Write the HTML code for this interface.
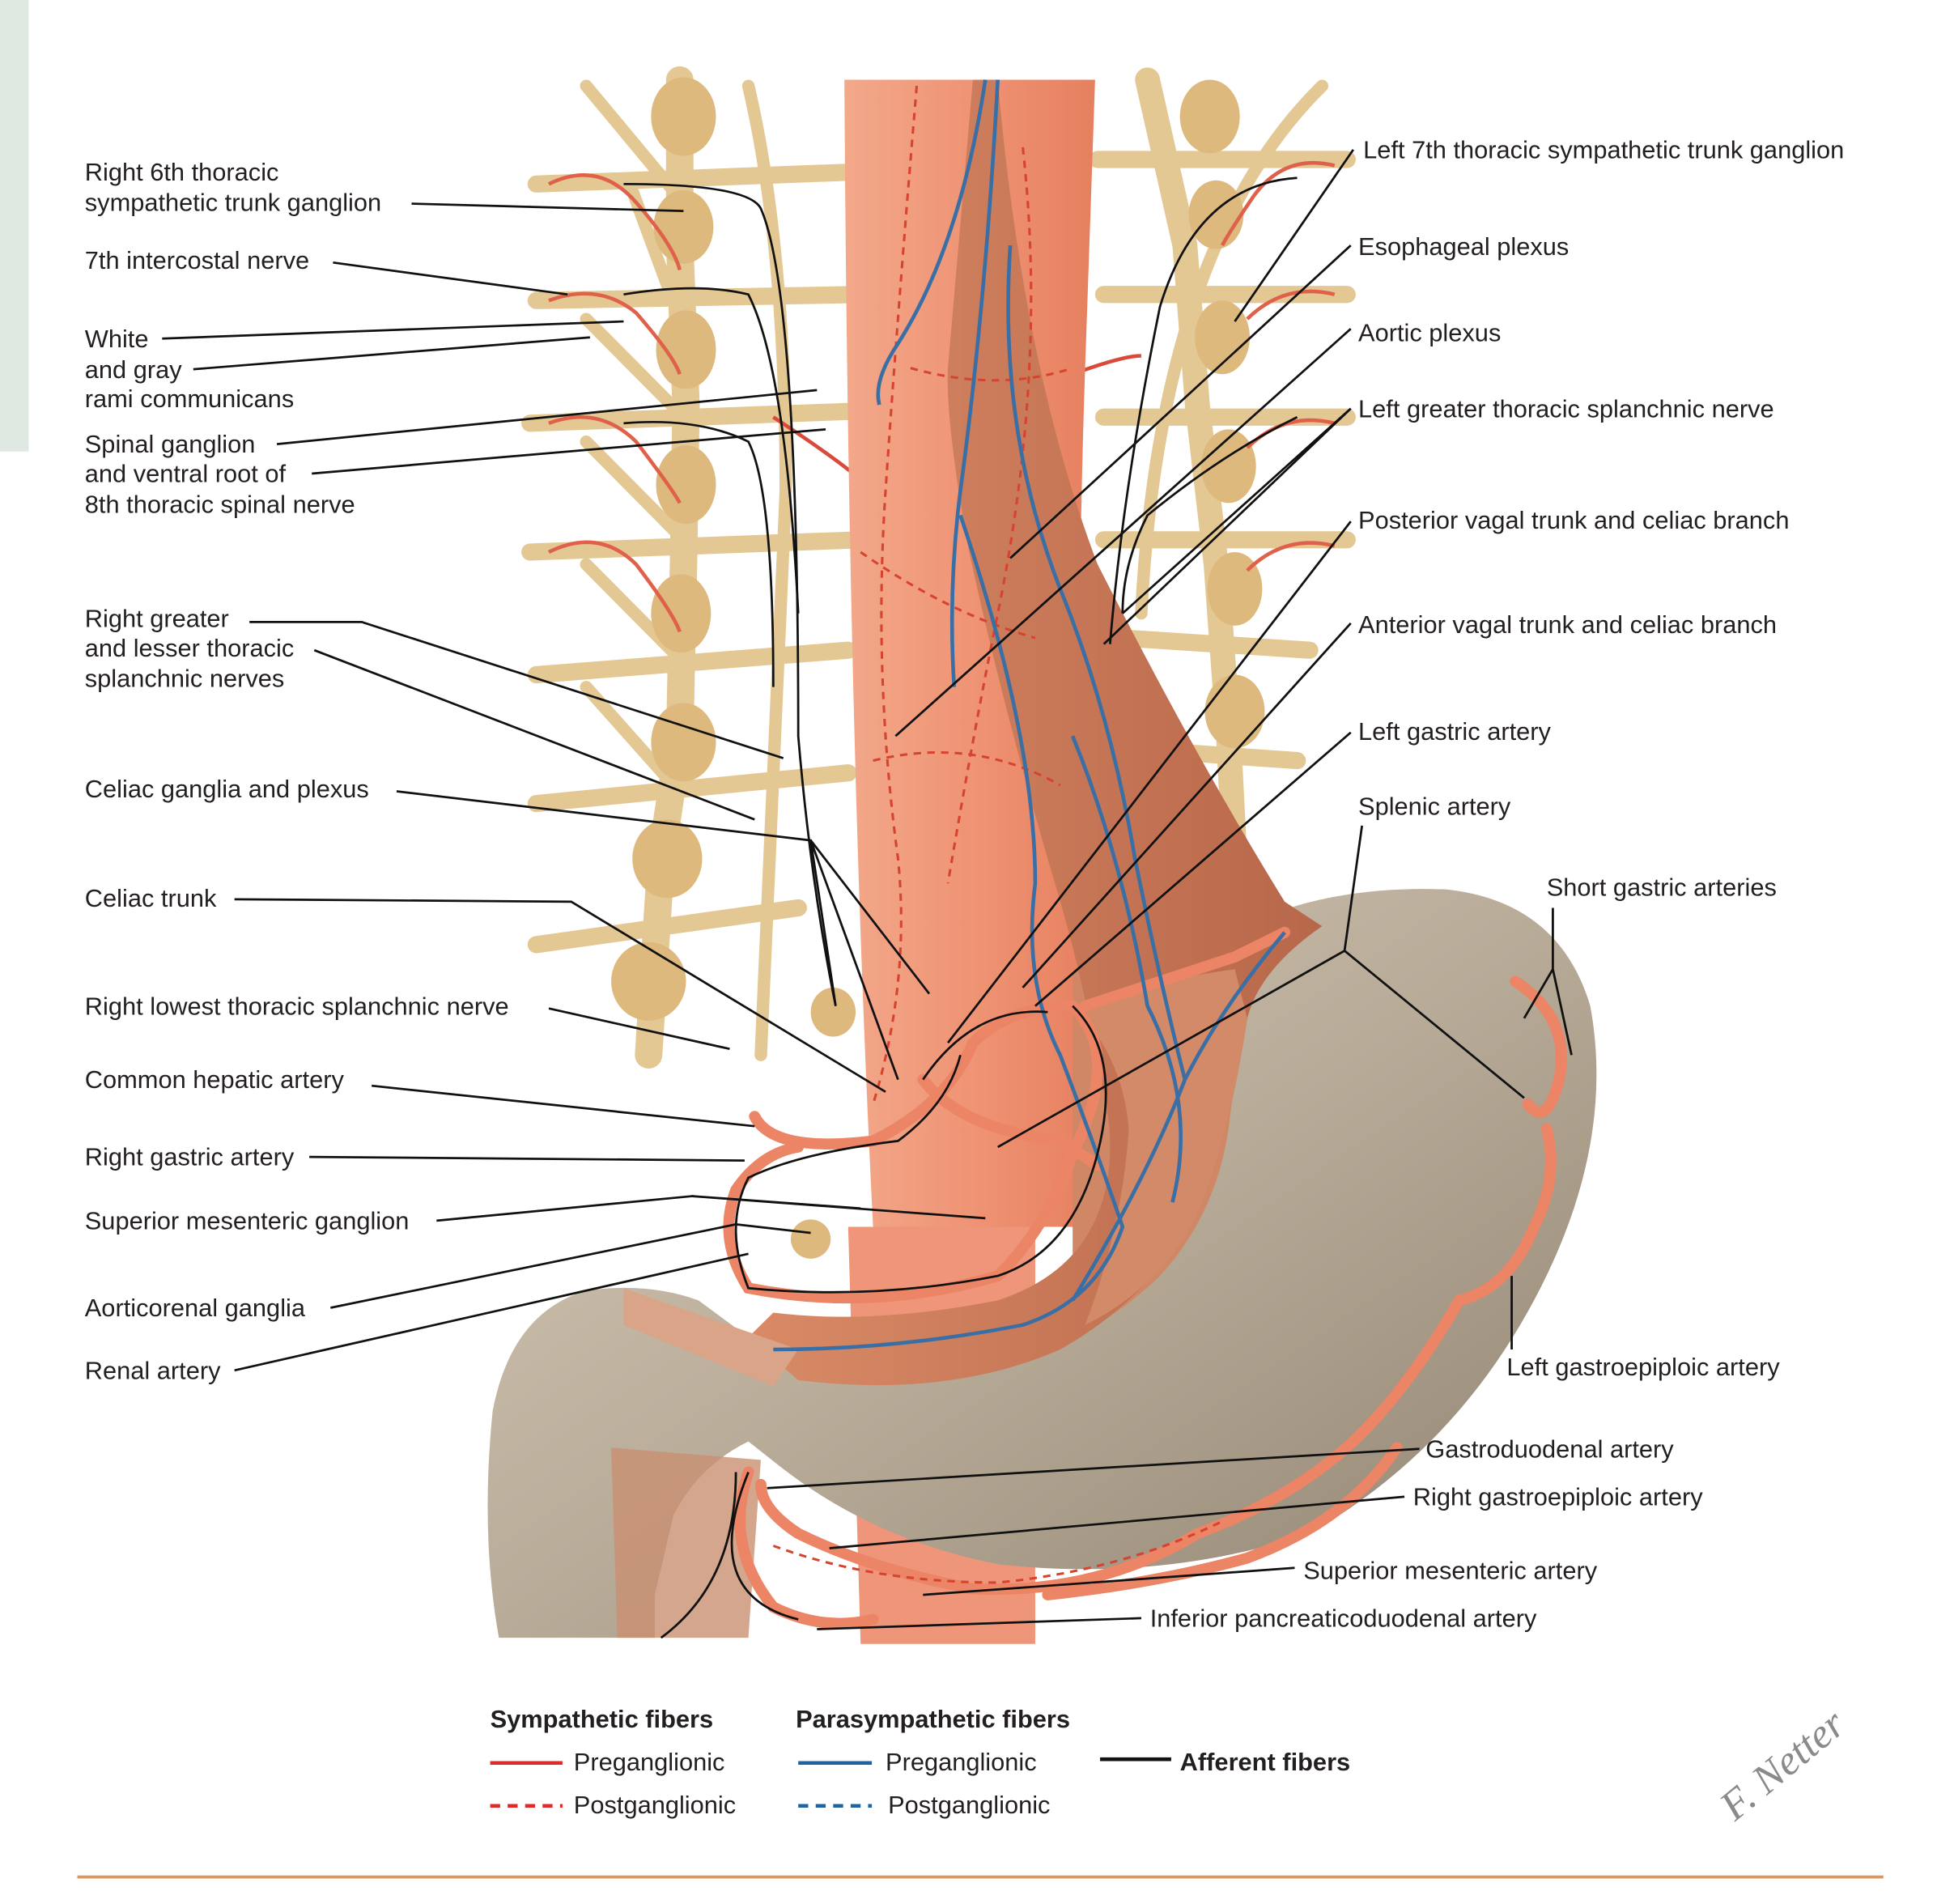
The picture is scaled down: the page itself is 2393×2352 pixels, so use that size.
<!DOCTYPE html>
<html><head><meta charset="utf-8">
<style>
html,body{margin:0;padding:0;background:#fff;}
svg{display:block;}
text{font-family:"Liberation Sans",sans-serif;fill:#231f20;}
</style></head>
<body>
<svg width="2393" height="2352" viewBox="0 0 1553 1552" preserveAspectRatio="none" xmlns="http://www.w3.org/2000/svg">
<defs>
<linearGradient id="st" x1="0" y1="0" x2="1" y2="1">
<stop offset="0" stop-color="#d8cdbb"/><stop offset="0.5" stop-color="#b8ab98"/><stop offset="1" stop-color="#8f8270"/>
</linearGradient>
<linearGradient id="eso" x1="0" y1="0" x2="1" y2="0">
<stop offset="0" stop-color="#f3a88a"/><stop offset="0.5" stop-color="#ef9475"/><stop offset="1" stop-color="#e6805f"/>
</linearGradient>
<linearGradient id="mus" x1="0" y1="0" x2="1" y2="0">
<stop offset="0" stop-color="#d98a66"/><stop offset="1" stop-color="#b8684a"/>
</linearGradient>
</defs>
<rect x="0" y="0" width="23" height="368" fill="#dfe9e1"/>

<g fill="none" stroke="#e4c894" stroke-linecap="round">
<path d="M545 65 L545 200 L550 330 L548 460 L545 600 L530 700 L520 860" stroke-width="22"/>
<path d="M600 70 Q630 200 630 400 L610 860" stroke-width="10"/>
<path d="M430 150 L690 140 M430 245 L690 240 M425 345 L690 335 M425 450 L690 440 M430 550 L680 530 M430 655 L680 630 M430 770 L640 740" stroke-width="14"/>
<path d="M470 70 L560 180 M505 150 L545 260 M470 260 L548 340 M470 360 L548 440 M470 460 L548 540 M470 560 L540 640" stroke-width="10"/>
<path d="M920 65 L950 200 L960 330 L975 460 L985 600 L990 700" stroke-width="20"/>
<path d="M1060 70 Q930 200 915 500" stroke-width="10"/>
<path d="M880 130 L1080 130 M885 240 L1080 240 M885 340 L1080 340 M885 440 L1080 440 M900 520 L1050 530 M900 610 L1040 620" stroke-width="14"/>
</g>
<g fill="#deb97e">
<ellipse cx="548" cy="95" rx="26" ry="32"/><ellipse cx="548" cy="185" rx="24" ry="30"/><ellipse cx="550" cy="285" rx="24" ry="32"/>
<ellipse cx="550" cy="395" rx="24" ry="32"/><ellipse cx="546" cy="500" rx="24" ry="32"/><ellipse cx="548" cy="605" rx="26" ry="32"/>
<ellipse cx="535" cy="700" rx="28" ry="32"/><ellipse cx="520" cy="800" rx="30" ry="32"/>
<ellipse cx="970" cy="95" rx="24" ry="30"/><ellipse cx="975" cy="175" rx="22" ry="28"/><ellipse cx="980" cy="275" rx="22" ry="30"/>
<ellipse cx="985" cy="380" rx="22" ry="30"/><ellipse cx="990" cy="480" rx="22" ry="30"/><ellipse cx="990" cy="580" rx="24" ry="30"/>
<ellipse cx="668" cy="825" rx="18" ry="20"/><ellipse cx="790" cy="990" rx="18" ry="16"/><ellipse cx="650" cy="1010" rx="16" ry="16"/>
</g>
<g fill="none" stroke="#e0614a" stroke-width="3">
<path d="M440 150 Q480 130 510 165 Q540 200 545 220 M440 245 Q480 230 510 255 Q540 290 545 305 M440 345 Q480 330 510 360 Q540 400 545 410 M440 450 Q480 430 510 460 Q540 500 545 515"/>
<path d="M1070 135 Q1030 125 1005 160 Q985 190 980 200 M1070 240 Q1030 230 1000 260 M1070 345 Q1030 335 1000 365 M1070 445 Q1030 435 1000 465"/>
<path d="M620 340 Q680 380 700 400 M860 305 Q900 290 915 290" stroke="#d94a3a" stroke-width="3"/>
</g>

<path d="M677 65 L878 65 L870 300 Q860 600 870 1000 L700 1000 Q680 600 677 65 Z" fill="url(#eso)"/>
<path d="M680 1000 L830 1000 L830 1340 L690 1340 Z" fill="#ee957a"/>

<!-- filler tissue behind stomach -->
<path d="M860 790 L1045 745 L1030 1000 L940 1090 L860 1110 Z" fill="#cf8766"/>

<path d="M1020 745 Q1080 722 1160 725 Q1250 735 1275 820 Q1295 930 1235 1050 Q1170 1180 1050 1250 Q930 1290 800 1275 Q700 1255 625 1195 L600 1175 Q560 1195 540 1235 L525 1300 L525 1335 L400 1335 Q385 1250 395 1150 Q410 1070 470 1052 Q520 1045 560 1060 L640 1120 Q720 1140 800 1115 Q880 1090 930 1040 Q975 990 985 920 Q992 860 1000 820 Z" fill="url(#st)"/>
<path d="M780 65 L800 65 Q820 300 880 460 Q960 620 1030 735 L1060 755 Q1010 790 1000 830 Q985 930 960 990 Q920 1060 850 1100 Q760 1140 640 1125 L600 1090 L620 1070 Q700 1080 800 1060 Q860 1040 880 990 Q900 940 880 870 Q870 800 840 700 Q800 560 775 440 Q758 340 760 300 Z" fill="url(#mus)"/>
<path d="M860 820 Q920 800 990 790 L1000 830 Q985 930 960 990 Q930 1050 870 1080 Q900 1000 905 920 Q900 860 860 820 Z" fill="#d28a68"/>
<path d="M490 1180 L610 1190 L600 1335 L495 1335 Z" fill="#c99072" opacity="0.8"/>
<path d="M500 1050 L640 1100 L620 1130 L500 1080 Z" fill="#d9a488"/>

<g fill="none" stroke="#ec8466" stroke-width="9" stroke-linecap="round">
<path d="M605 910 Q620 940 700 930 Q760 900 780 850 Q810 820 860 820 Q900 860 860 940 Q840 1000 800 1040 Q700 1070 600 1050 Q575 1010 590 970 Q610 940 640 935"/>
<path d="M740 880 Q770 920 850 930 L880 950"/>
<path d="M870 820 Q930 800 990 780 L1030 760"/>
<path d="M1215 800 Q1260 830 1250 880 Q1240 920 1225 900 M1240 920 Q1250 960 1230 1000 Q1210 1050 1170 1060 Q1130 1130 1090 1170 Q1040 1220 960 1250 Q880 1300 780 1295 Q700 1280 640 1250 Q610 1230 610 1210"/>
<path d="M600 1200 Q580 1260 620 1310 Q660 1330 700 1320"/>
<path d="M840 1300 Q930 1290 1000 1270 Q1080 1240 1120 1180"/>
</g>
<g fill="none" stroke="#d6432f" stroke-width="2" stroke-dasharray="6 5">
<path d="M735 70 Q720 250 710 400 Q700 550 720 700 Q730 800 700 900"/>
<path d="M820 120 Q840 300 800 500 Q780 600 760 720"/>
<path d="M690 450 Q760 500 830 520 M700 620 Q780 600 850 640 M730 300 Q800 320 860 300"/>
<path d="M620 1260 Q700 1290 800 1290 Q900 1280 980 1240"/>
</g>
<g fill="none" stroke="#3a6fa5" stroke-width="3">
<path d="M790 65 Q770 200 720 280 Q700 310 705 330"/>
<path d="M800 65 Q790 250 770 400 Q760 480 765 560"/>
<path d="M810 200 Q800 350 850 480 Q890 580 910 700 Q930 800 950 880"/>
<path d="M770 420 Q830 600 830 720 Q820 800 850 860 Q880 940 900 1000 Q880 1060 820 1080 Q720 1100 620 1100"/>
<path d="M860 600 Q900 700 920 820 Q960 900 940 980"/>
<path d="M1030 760 Q980 820 950 880 Q920 960 860 1060"/>
</g>

<g fill="none" stroke="#111" stroke-width="1.8">
<path d="M330 166 L548 172"/>
<path d="M267 214 L455 240"/>
<path d="M130 276 L500 262"/>
<path d="M155 301 L473 275"/>
<path d="M222 362 L655 318"/>
<path d="M250 386 L662 350"/>
<path d="M200 507 L290 507 L628 618"/>
<path d="M252 530 L605 668"/>
<path d="M318 645 L650 685 L670 820 M650 685 L745 810 M650 685 L720 880"/>
<path d="M188 733 L458 735 L710 890"/>
<path d="M440 822 L585 855"/>
<path d="M298 885 L605 918"/>
<path d="M248 943 L597 946"/>
<path d="M350 995 L555 975 L690 985 M555 975 L790 993"/>
<path d="M265 1066 L590 998 L650 1005"/>
<path d="M188 1117 L600 1022"/>
<path d="M1085 122 L990 262"/>
<path d="M1083 200 L810 455"/>
<path d="M1083 268 L718 600"/>
<path d="M1083 333 L900 500 M1083 333 L885 525"/>
<path d="M1083 425 L760 850"/>
<path d="M1083 508 L820 805"/>
<path d="M1083 597 L830 820"/>
<path d="M1092 673 L1078 775 L800 935 M1078 775 L1222 895"/>
<path d="M1245 740 L1245 790 L1222 830 M1245 790 L1260 860"/>
<path d="M1212 1100 L1212 1040"/>
<path d="M1138 1181 L615 1213"/>
<path d="M1126 1220 L665 1262"/>
<path d="M1038 1278 L740 1300"/>
<path d="M915 1319 L655 1328"/>
<path d="M500 150 Q600 150 610 170 Q640 240 640 600 Q650 720 670 820"/>
<path d="M500 240 Q560 230 600 240 Q630 300 640 500"/>
<path d="M500 345 Q560 340 600 360 Q620 400 620 560"/>
<path d="M1040 145 Q960 150 930 250 Q900 400 890 525"/>
<path d="M1040 340 Q980 370 920 420 Q900 460 900 500"/>
<path d="M860 820 Q900 860 880 940 Q860 1020 800 1040 Q700 1060 600 1050 Q580 1000 600 960 Q640 940 720 930 Q760 900 770 860"/>
<path d="M740 880 Q780 820 840 825"/>
<path d="M600 1200 Q560 1300 640 1320"/>
<path d="M590 1200 Q590 1290 530 1335"/>
</g>

<g font-size="20">
<text x="68" y="147">Right 6th thoracic</text>
<text x="68" y="172">sympathetic trunk ganglion</text>
<text x="68" y="219">7th intercostal nerve</text>
<text x="68" y="283">White</text>
<text x="68" y="308">and gray</text>
<text x="68" y="332">rami communicans</text>
<text x="68" y="369">Spinal ganglion</text>
<text x="68" y="393">and ventral root of</text>
<text x="68" y="418">8th thoracic spinal nerve</text>
<text x="68" y="511">Right greater</text>
<text x="68" y="535">and lesser thoracic</text>
<text x="68" y="560">splanchnic nerves</text>
<text x="68" y="650">Celiac ganglia and plexus</text>
<text x="68" y="739">Celiac trunk</text>
<text x="68" y="827">Right lowest thoracic splanchnic nerve</text>
<text x="68" y="887">Common hepatic artery</text>
<text x="68" y="950">Right gastric artery</text>
<text x="68" y="1002">Superior mesenteric ganglion</text>
<text x="68" y="1073">Aorticorenal ganglia</text>
<text x="68" y="1124">Renal artery</text>
<text x="1093" y="129">Left 7th thoracic sympathetic trunk ganglion</text>
<text x="1089" y="208">Esophageal plexus</text>
<text x="1089" y="278">Aortic plexus</text>
<text x="1089" y="340">Left greater thoracic splanchnic nerve</text>
<text x="1089" y="431">Posterior vagal trunk and celiac branch</text>
<text x="1089" y="516">Anterior vagal trunk and celiac branch</text>
<text x="1089" y="603">Left gastric artery</text>
<text x="1089" y="664">Splenic artery</text>
<text x="1240" y="730">Short gastric arteries</text>
<text x="1208" y="1121">Left gastroepiploic artery</text>
<text x="1143" y="1188">Gastroduodenal artery</text>
<text x="1133" y="1227">Right gastroepiploic artery</text>
<text x="1045" y="1287">Superior mesenteric artery</text>
<text x="922" y="1326">Inferior pancreaticoduodenal artery</text>
</g>

<g font-size="20">
<text x="393" y="1408" font-weight="bold">Sympathetic fibers</text>
<text x="638" y="1408" font-weight="bold">Parasympathetic fibers</text>
<text x="460" y="1443">Preganglionic</text>
<text x="460" y="1478">Postganglionic</text>
<text x="710" y="1443">Preganglionic</text>
<text x="712" y="1478">Postganglionic</text>
<text x="946" y="1443" font-weight="bold">Afferent fibers</text>
</g>
<line x1="393" y1="1437" x2="451" y2="1437" stroke="#e02a2a" stroke-width="3"/>
<line x1="393" y1="1472" x2="451" y2="1472" stroke="#e02a2a" stroke-width="3" stroke-dasharray="8 6"/>
<line x1="640" y1="1437" x2="699" y2="1437" stroke="#1f64a0" stroke-width="3"/>
<line x1="640" y1="1472" x2="699" y2="1472" stroke="#1f64a0" stroke-width="3" stroke-dasharray="8 6"/>
<line x1="882" y1="1434" x2="939" y2="1434" stroke="#111" stroke-width="3"/>
<text x="1360" y="1460" font-size="34" font-style="italic" style="fill:#8a8a8a;font-family:'Liberation Serif',serif" transform="rotate(-40 1410 1430)">F. Netter</text>
<line x1="62" y1="1530" x2="1510" y2="1530" stroke="#e0965a" stroke-width="2.5"/>
</svg>
</body></html>
